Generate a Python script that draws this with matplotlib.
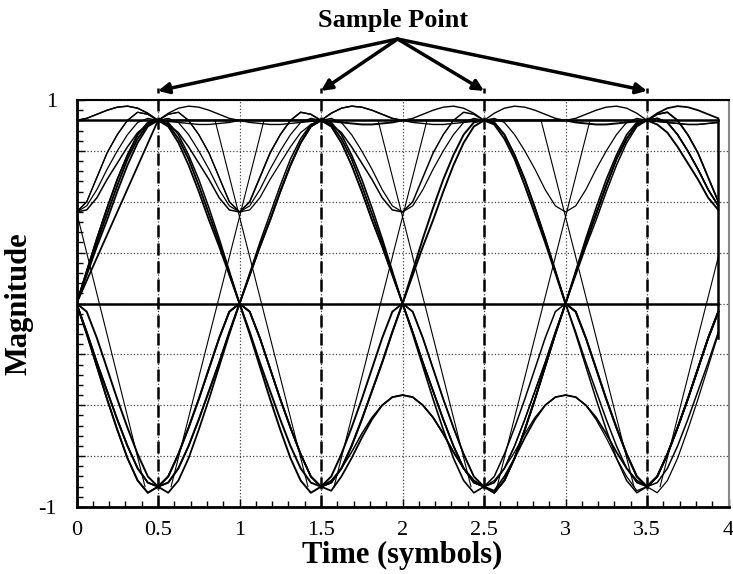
import numpy as np
import matplotlib.pyplot as plt
from matplotlib.ticker import MultipleLocator, FixedLocator, FuncFormatter

plt.rcParams['font.family'] = ['Liberation Serif', 'DejaVu Serif']

# 16 samples per symbol, 64 samples in the window
step = 1 / 16
n_samples = 64

# half-symbol shapes: from the sample point (d=0) to the symbol edge (d=0.5)
# key = (value at sample point, value at symbol edge), three variants each
SHAPES = {
    (0.9, 0.9): [[0.90, 0.90, 0.90, 0.90, 0.90, 0.90, 0.90, 0.90, 0.90],
                 [0.90, 0.935, 0.96, 0.97, 0.965, 0.95, 0.93, 0.91, 0.90],
                 [0.90, 0.895, 0.89, 0.885, 0.88, 0.88, 0.885, 0.89, 0.90]],
    (0.9, 0.45): [[0.90, 0.88, 0.84, 0.77, 0.69, 0.61, 0.52, 0.46, 0.45],
                  [0.90, 0.93, 0.94, 0.90, 0.83, 0.74, 0.62, 0.50, 0.45],
                  [0.90, 0.91, 0.89, 0.83, 0.75, 0.66, 0.56, 0.48, 0.45]],
    (0.9, 0.0): [[0.90, 0.88, 0.81, 0.71, 0.58, 0.44, 0.30, 0.15, 0.00],
                 [0.90, 0.89, 0.83, 0.73, 0.61, 0.47, 0.32, 0.16, 0.00],
                 [0.90, 0.87, 0.79, 0.68, 0.55, 0.41, 0.28, 0.14, 0.00]],
    (-0.9, 0.0): [[-0.90, -0.85, -0.74, -0.61, -0.47, -0.32, -0.17, -0.04, 0.00],
                  [-0.90, -0.88, -0.81, -0.70, -0.57, -0.43, -0.29, -0.14, 0.00],
                  [-0.90, -0.93, -0.87, -0.76, -0.62, -0.47, -0.31, -0.15, 0.00]],
    (-0.9, -0.45): [[-0.90, -0.87, -0.81, -0.73, -0.64, -0.56, -0.50, -0.46, -0.45],
                    [-0.90, -0.92, -0.85, -0.76, -0.66, -0.57, -0.50, -0.46, -0.45],
                    [-0.90, -0.88, -0.83, -0.75, -0.66, -0.58, -0.51, -0.46, -0.45]],
}

# each trace: values at t = 0, 0.5, 1, ..., 4 (edges and sample points)
TRACE_NODES = [
    [0.9, 0.9, 0.9, 0.9, 0.9, 0.9, 0.9, 0.9, 0.9],
    [0.9, 0.9, 0.9, 0.9, 0.9, 0.9, 0.9, 0.9, 0.9],
    [0.9, 0.9, 0.9, 0.9, 0.9, 0.9, 0.9, 0.9, 0.9],
    [0.45, 0.9, 0.45, 0.9, 0, -0.9, -0.45, -0.9, 0],
    [0.45, 0.9, 0.45, 0.9, 0.45, 0.9, 0.45, 0.9, 0.45],
    [0.45, 0.9, 0.45, 0.9, 0, -0.9, 0, -0.9, 0],
    [0, 0.9, 0, -0.9, 0, 0.9, 0, -0.9, 0],
    [0, 0.9, 0, -0.9, -0.45, -0.9, 0, 0.9, 0.45],
    [0, 0.9, 0, -0.9, 0, -0.9, 0, 0.9, 0.45],
    [0, -0.9, 0, 0.9, 0, -0.9, -0.45, -0.9, 0],
    [0, -0.9, 0, 0.9, 0.45, 0.9, 0, -0.9, 0],
    [0, -0.9, 0, 0.9, 0.9, 0.9, 0, -0.9, 0],
    [0, -0.9, 0, -0.9, 0, 0.9, 0.9, 0.9, 0.45],
    [0, -0.9, 0, -0.9, -0.45, -0.9, 0, 0.9, 0.9],
    [0, 0.9, 0.9, 0.9, 0, -0.9, 0, 0.9, 0.45],
    [0.45, 0.9, 0.45, 0.9, 0, -0.9, 0, 0.9, 0.45],
]
# shape variant used for each of the 8 half-symbols
TRACE_VARIANTS = [
    "00000000", "11011102", "12212012", "11000012",
    "22222222", "00101010", "00111100", "11000122",
    "22010201", "10221100", "21001121", "01220000",
    "20202020", "12010201", "10012212", "11121101",
]
TRACE_WIDTHS = [1.8, 1.0, 1.0, 0.9, 0.9, 1.1, 1.4, 1.1, 1.3, 1.3, 1.1, 1.4, 1.4, 1.3, 1.2, 0.9]

ZERO_LEVEL = 0.0

# straight segments seen in the plot
LINE_X = [[0.0, 0.42], [0.58, 1.15], [0.85, 1.42], [1.58, 2.15], [1.85, 2.42],
          [2.58, 3.15], [2.85, 3.42], [3.58, 3.9375], [0.0, 0.5]]
LINE_Y = [[0.45, -0.9], [-0.9, 0.9], [0.9, -0.9], [-0.9, 0.9], [0.9, -0.9],
          [-0.9, 0.9], [0.9, -0.9], [-0.9, 0.23], [0.0, 0.9]]
LINE_W = [0.8, 0.8, 0.8, 0.8, 0.8, 0.8, 0.8, 0.8, 1.3]

END_X = 3.9375
END_Y = [0.9, -0.17]

SAMPLE_POINTS = [0.5, 1.5, 2.5, 3.5]


def build_trace(nodes, variants):
    vals = []
    for h in range(8):
        v = int(variants[h])
        if h % 2 == 0:
            shape = SHAPES[(nodes[h + 1], nodes[h])][v][::-1]
        else:
            shape = SHAPES[(nodes[h], nodes[h + 1])][v]
        vals.extend(shape if h == 0 else shape[1:])
    return np.array(vals[:n_samples])


fig = plt.figure(figsize=(7.33, 5.74), dpi=100)
ax = fig.add_axes([0.1044, 0.1167, 0.8895, 0.709])

t = np.arange(n_samples) * step
for nodes, var, lw in zip(TRACE_NODES, TRACE_VARIANTS, TRACE_WIDTHS):
    ax.plot(t, build_trace(nodes, var), color='k', lw=lw, zorder=3)

ax.plot(t, np.full(n_samples, ZERO_LEVEL), color='k', lw=1.8, zorder=3)
for xs, ys, lw in zip(LINE_X, LINE_Y, LINE_W):
    ax.plot(xs, ys, color='k', lw=lw, zorder=3)
ax.plot([END_X, END_X], END_Y, color='k', lw=1.8, zorder=3)

# sample point markers
for x in SAMPLE_POINTS:
    ax.plot([x, x], [-1, 1.06], color='k', lw=1.8, dashes=(4.8, 2.4),
            clip_on=False, zorder=4)

ax.set_xlim(0, 4)
ax.set_ylim(-1, 1)

ax.xaxis.set_major_locator(MultipleLocator(0.5))
ax.xaxis.set_minor_locator(MultipleLocator(0.1))
ax.xaxis.set_major_formatter(FuncFormatter(lambda v, p: '%g' % v))
ax.yaxis.set_major_locator(FixedLocator(np.arange(-1, 1.01, 0.25)))
ax.yaxis.set_minor_locator(MultipleLocator(0.05))
ax.yaxis.set_major_formatter(FuncFormatter(lambda v, p: '%g' % v if abs(v) == 1 else ''))
ax.tick_params(which='both', direction='in', labelsize=16, width=1)
ax.tick_params(which='major', length=6)
ax.tick_params(axis='x', which='major', pad=10)
ax.tick_params(axis='y', which='major', pad=14)
ax.tick_params(which='minor', length=4)
ax.grid(True, which='major', linestyle=':', color='#444', lw=0.9, zorder=1)

for s in ['left', 'bottom']:
    ax.spines[s].set_linewidth(2)
ax.spines['top'].set_linewidth(1.5)
ax.spines['right'].set_linewidth(1.5)
ax.spines['right'].set_color('#888')

ax.set_xlabel('Time (symbols)', fontsize=22, fontweight='bold', labelpad=1)
ax.set_ylabel('Magnitude', fontsize=22, fontweight='bold', labelpad=4)

ax.text(1.94, 1.39, 'Sample Point', fontsize=19, fontweight='bold',
        ha='center', va='center', transform=ax.transData, clip_on=False)
for x in SAMPLE_POINTS:
    ax.annotate('', xy=(x, 1.045), xytext=(1.97, 1.30),
                arrowprops=dict(arrowstyle='-|>', lw=2.5, color='k',
                                mutation_scale=16, shrinkA=0, shrinkB=0),
                annotation_clip=False)

plt.savefig('out.png', dpi=100)
